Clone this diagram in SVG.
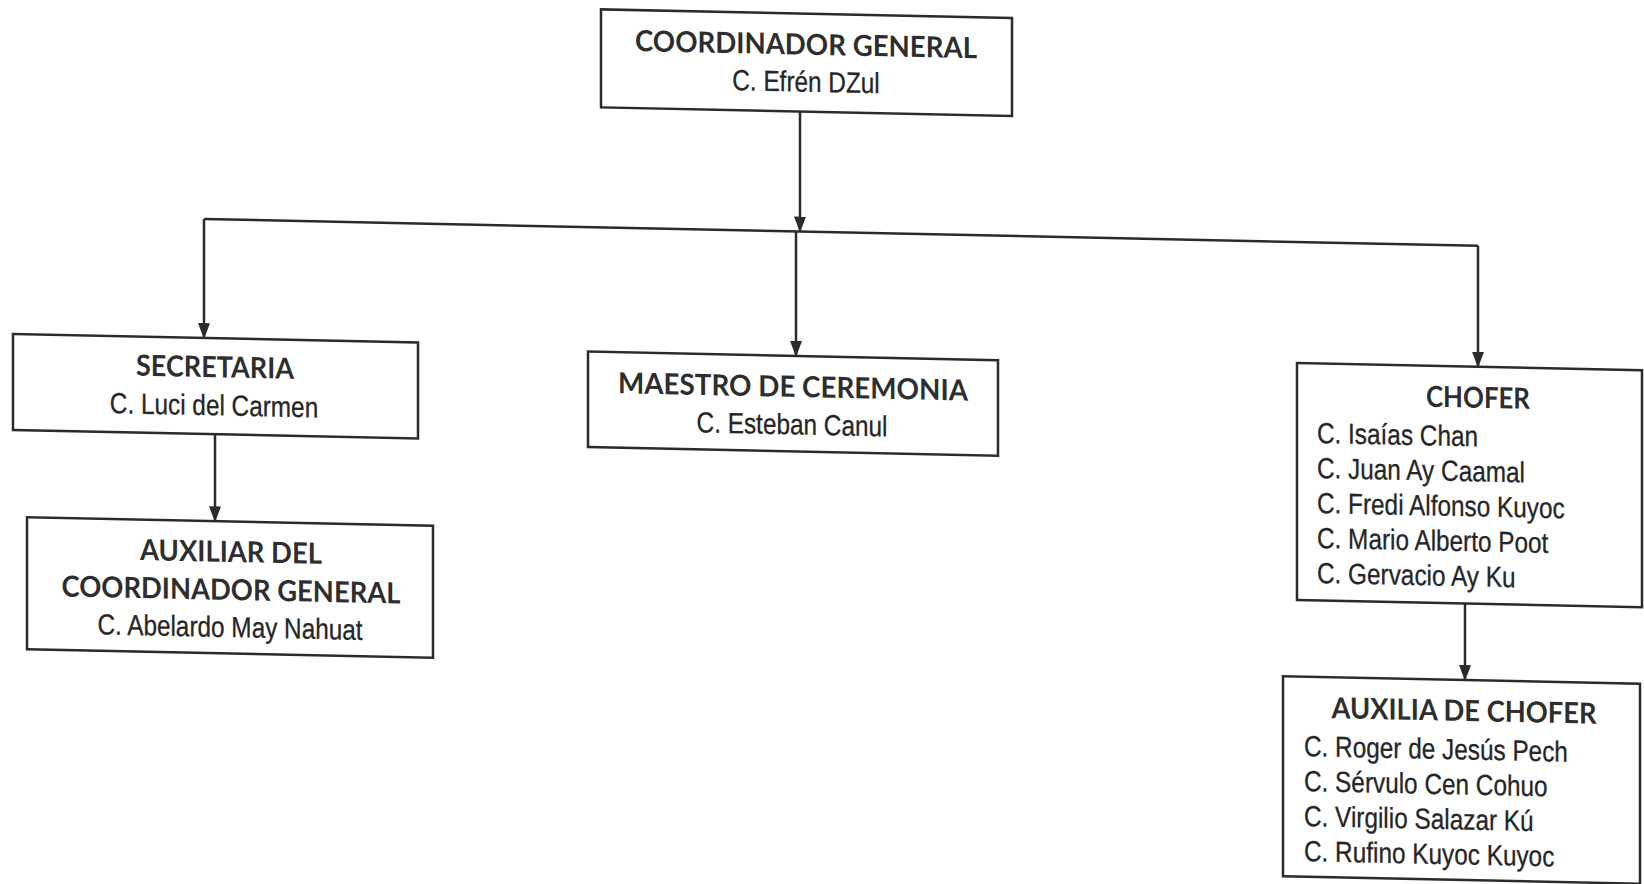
<svg xmlns="http://www.w3.org/2000/svg" width="1644" height="884" viewBox="0 0 1644 884">
<defs>
<marker id="arr" markerUnits="userSpaceOnUse" markerWidth="16" markerHeight="12" refX="15" refY="6" orient="auto">
<path d="M0,0 L16,6 L0,12 z" fill="#2b2b2b"/>
</marker>
<style>
.box { fill: #ffffff; stroke: #2b2b2b; stroke-width: 2.5; }
.ttl { font-family: Lato, "Liberation Sans", sans-serif; font-weight: bold; font-size: 29px; fill: #2e2e2e; text-anchor: middle; }
.nm { font-family: "Liberation Sans", Arial, sans-serif; font-size: 29px; fill: #262626; stroke: #262626; stroke-width: 0.3; }
.mid { text-anchor: middle; }
.st { text-anchor: start; }
.ln { fill: none; stroke: #2b2b2b; stroke-width: 2.5; }
</style>
</defs>
<rect width="1644" height="884" fill="#ffffff"/>
<g transform="matrix(1 0.021 0 1 0 -17.26)">
<g id="connectors">
<path class="ln" d="M800,112 V232" marker-end="url(#arr)"/>
<path class="ln" d="M204,232 H1478"/>
<path class="ln" d="M204,232 V351" marker-end="url(#arr)"/>
<path class="ln" d="M796,232 V356.5" marker-end="url(#arr)"/>
<path class="ln" d="M1478,232 V353" marker-end="url(#arr)"/>
<path class="ln" d="M215,447 V534" marker-end="url(#arr)"/>
<path class="ln" d="M1465,590 V666.5" marker-end="url(#arr)"/>
</g>
<g id="coordinador">
<rect class="box" x="601" y="14" width="411" height="98"/>
<text class="ttl" x="806" y="55" textLength="342" lengthAdjust="spacingAndGlyphs">COORDINADOR GENERAL</text>
<text class="nm mid" transform="translate(806,92) scale(0.84,1)">C. Efrén DZul</text>
</g>
<g id="secretaria">
<rect class="box" x="13" y="351" width="405" height="96"/>
<text class="ttl" x="215" y="390" textLength="158" lengthAdjust="spacingAndGlyphs">SECRETARIA</text>
<text class="nm mid" transform="translate(214,428) scale(0.84,1)">C. Luci del Carmen</text>
</g>
<g id="maestro">
<rect class="box" x="588" y="356.5" width="410" height="95.5"/>
<text class="ttl" x="793" y="397.5" textLength="350" lengthAdjust="spacingAndGlyphs">MAESTRO DE CEREMONIA</text>
<text class="nm mid" transform="translate(792,435) scale(0.84,1)">C. Esteban Canul</text>
</g>
<g id="chofer">
<rect class="box" x="1297" y="353" width="345" height="237"/>
<text class="ttl" x="1478" y="394" textLength="104" lengthAdjust="spacingAndGlyphs">CHOFER</text>
<text class="nm st" transform="translate(1317,432.6) scale(0.84,1)">C. Isaías Chan</text>
<text class="nm st" transform="translate(1317,467.6) scale(0.84,1)">C. Juan Ay Caamal</text>
<text class="nm st" transform="translate(1317,502.6) scale(0.84,1)">C. Fredi Alfonso Kuyoc</text>
<text class="nm st" transform="translate(1317,537.6) scale(0.84,1)">C. Mario Alberto Poot</text>
<text class="nm st" transform="translate(1317,572.6) scale(0.84,1)">C. Gervacio Ay Ku</text>
</g>
<g id="auxiliar-coordinador">
<rect class="box" x="27" y="534" width="406" height="132"/>
<text class="ttl" x="231" y="574.4" textLength="182" lengthAdjust="spacingAndGlyphs">AUXILIAR DEL</text>
<text class="ttl" x="231" y="612.4" textLength="339" lengthAdjust="spacingAndGlyphs">COORDINADOR GENERAL</text>
<text class="nm mid" transform="translate(230,649.5) scale(0.84,1)">C. Abelardo May Nahuat</text>
</g>
<g id="auxilia-chofer">
<rect class="box" x="1283" y="666.5" width="357" height="200"/>
<text class="ttl" x="1464" y="707.5" textLength="265" lengthAdjust="spacingAndGlyphs">AUXILIA DE CHOFER</text>
<text class="nm st" transform="translate(1304,746) scale(0.84,1)">C. Roger de Jesús Pech</text>
<text class="nm st" transform="translate(1304,781) scale(0.84,1)">C. Sérvulo Cen Cohuo</text>
<text class="nm st" transform="translate(1304,816) scale(0.84,1)">C. Virgilio Salazar Kú</text>
<text class="nm st" transform="translate(1304,851) scale(0.84,1)">C. Rufino Kuyoc Kuyoc</text>
</g>
</g>
</svg>
